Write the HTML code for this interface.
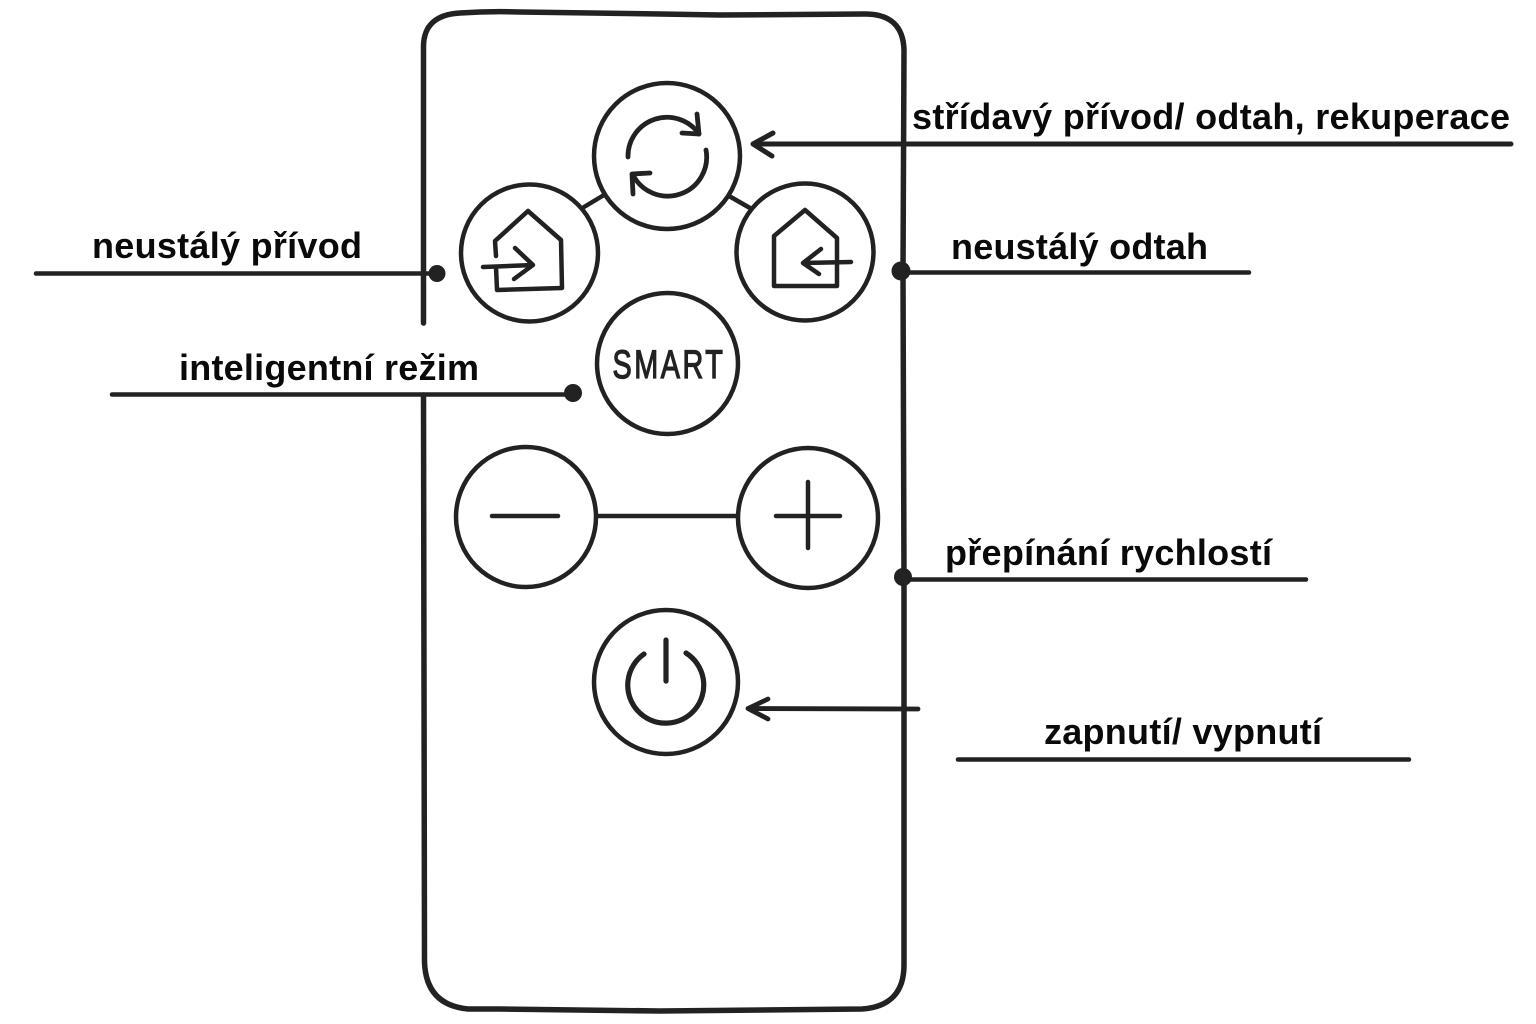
<!DOCTYPE html>
<html lang="cs">
<head>
<meta charset="utf-8">
<title>Dálkový ovladač</title>
<style>
html,body{margin:0;padding:0;background:#fff;width:1536px;height:1024px;overflow:hidden}
svg{display:block}
text{font-family:"Liberation Sans",sans-serif;font-weight:700;font-size:36px;fill:#0a0a0a}
.s{fill:none;stroke:#222;stroke-linecap:round;stroke-linejoin:round}
</style>
</head>
<body>
<svg width="1536" height="1024" viewBox="0 0 1536 1024" xmlns="http://www.w3.org/2000/svg">
<rect width="1536" height="1024" fill="#fff"/>

<!-- body -->
<path class="s" stroke-width="5.5" d="M423.500 323 L423.500 46 Q424 15 460 13 Q490 11 520 12 L660 14 L720 15 L865 14 Q903 14 904 50 L903 272 L904 578 L904 965 Q904 1006 862 1009 L660 1011 L500 1009 L468 1009 Q426 1005 424.500 962 L423.500 395"/>

<!-- connectors between buttons -->
<path class="s" stroke-width="4.500" d="M584 207 L604 195 M729 196 L750 208 M597 516 L737 516"/>

<!-- buttons -->
<g class="s" stroke-width="4.500" fill="none">
<circle cx="667" cy="156" r="73"/>
<circle cx="529.500" cy="253" r="68.500"/>
<circle cx="805" cy="252" r="68.500"/>
<circle cx="667.500" cy="363.500" r="70.500"/>
<ellipse cx="526" cy="517" rx="70" ry="70"/>
<ellipse cx="808" cy="518" rx="70" ry="70"/>
<ellipse cx="666" cy="682" rx="72" ry="72"/>
</g>

<!-- sync icon -->
<g class="s" stroke-width="4.800">
<path d="M628 157 A39 39 0 0 1 699 134"/>
<path d="M697 114 L699 134 L682 133"/>
<path d="M706 150 A39 39 0 0 1 633 175"/>
<path d="M650 173 L632 174 L633 194"/>
</g>

<!-- left house -->
<g class="s" stroke-width="4.500">
<path d="M496 256 L495 241 L528 211 L561 240 L562 288 L497 290 L496 267"/>
<path d="M483 267 L533 265 M515 248 L533 265 L514 279"/>
</g>

<!-- right house -->
<g class="s" stroke-width="4.500">
<path d="M774 286 L774 236 L805 210 L837 238 L837 286 Z"/>
<path d="M851 262 L803 263 M821 249 L803 263 L819 274"/>
</g>

<!-- SMART -->
<text transform="translate(612.500 378) scale(.72 1)" style="font-weight:400;font-size:40px;letter-spacing:3.500px;fill:#222;stroke:#222;stroke-width:1.300">SMART</text>

<!-- minus / plus -->
<path class="s" stroke-width="4.500" d="M492 516 L558 516 M776 516 L840 516 M808 482 L808 548"/>

<!-- power -->
<g class="s" stroke-width="5.200">
<path d="M644 654 A38 38 0 1 0 686 653"/>
<path d="M666 640 L666 681"/>
</g>

<!-- leader lines -->
<g class="s">
<path stroke-width="4.500" d="M36 273.500 L437 273.500"/>
<path stroke-width="4.500" d="M112 394.500 L573 394.500"/>
<path stroke-width="4.500" d="M901 272.500 L1249 272.500"/>
<path stroke-width="4.500" d="M904 579.500 L1306 579.500"/>
<path stroke-width="4.500" d="M958 759.500 L1409 759.500"/>
<path stroke-width="5" d="M753 144 L1511 144 M773 133 L753 144 L772 156"/>
<path stroke-width="4.800" d="M748 708.500 L918 709 M768 699 L748 708.500 L768 719"/>
</g>

<!-- dots -->
<g fill="#222">
<circle cx="437" cy="273.500" r="8.500"/>
<circle cx="573" cy="393" r="9"/>
<circle cx="901" cy="271" r="9.500"/>
<circle cx="903" cy="577" r="9"/>
</g>

<!-- labels -->
<text x="92" y="258" textLength="270">neustálý přívod</text>
<text x="179" y="380" textLength="300">inteligentní režim</text>
<text x="912" y="129" textLength="598">střídavý přívod/ odtah, rekuperace</text>
<text x="951" y="259" textLength="257">neustálý odtah</text>
<text x="945" y="565" textLength="327">přepínání rychlostí</text>
<text x="1044" y="744" textLength="278">zapnutí/ vypnutí</text>
</svg>
</body>
</html>
